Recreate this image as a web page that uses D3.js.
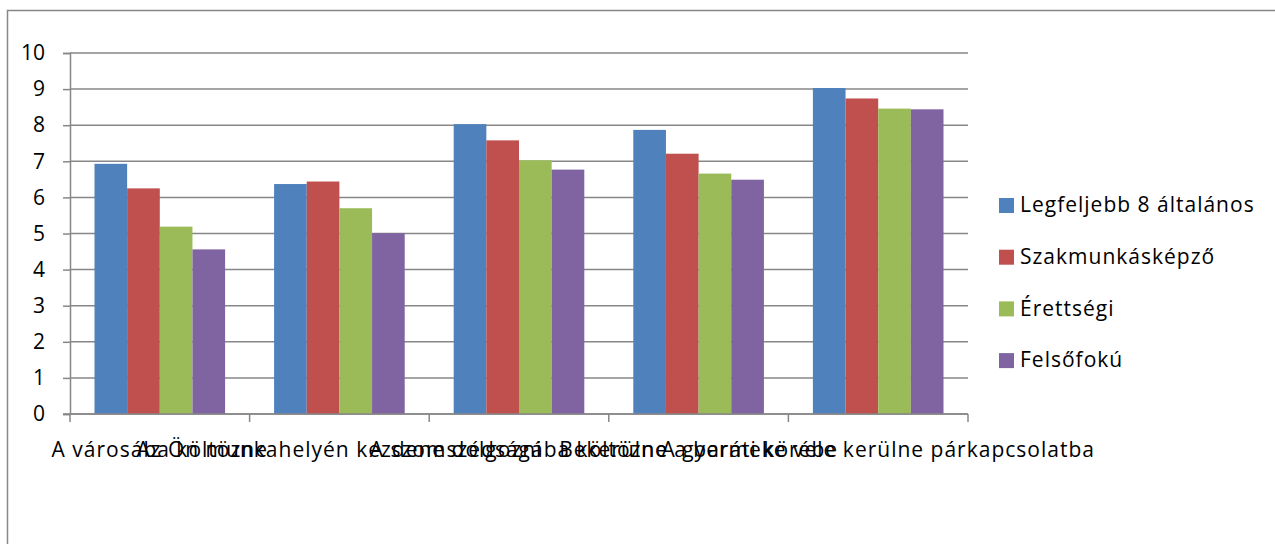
<!DOCTYPE html>
<html>
<head>
<meta charset="utf-8">
<script src="https://cdn.jsdelivr.net/npm/d3@7"></script>
<style>
  body { margin: 0; background: #fff; }
  svg { display: block; font-family: "Open Sans", sans-serif; }
</style>
</head>
<body>
<svg width="1275" height="544"></svg>
<script>
// Data
var categories = [
  'A városába költözne',
  'Az Ön munkahelyén kezdene dolgozni',
  'A szomszédságába költözne',
  'Bekerülne a baráti körébe',
  'A gyermeke vele kerülne párkapcsolatba'
];
var series = ['Legfeljebb 8 általános', 'Szakmunkásképző', 'Érettségi', 'Felsőfokú'];
var values = [
  [6.93, 6.37, 8.03, 7.87, 9.03],   // Legfeljebb 8 általános
  [6.25, 6.44, 7.58, 7.21, 8.74],   // Szakmunkásképző
  [5.19, 5.70, 7.03, 6.66, 8.46],   // Érettségi
  [4.56, 5.01, 6.77, 6.49, 8.44]    // Felsőfokú
];
var yTicks = [0, 1, 2, 3, 4, 5, 6, 7, 8, 9, 10];
var colors = ['#4F81BD', '#C0504D', '#9BBB59', '#8064A2'];

var svg = d3.select('svg');
var gridColor = '#878787';
var fontSize = 21, spacing = '1px';

// outer chart border (runs past the bottom/right edge of the picture)
svg.append('rect')
  .attr('x', 7.5).attr('y', 10.5)
  .attr('width', 1300).attr('height', 600)
  .attr('fill', 'none')
  .attr('stroke', gridColor)
  .attr('stroke-width', 1.5);

var plotLeft = 70, plotRight = 968, plotTop = 53, plotBottom = 414;

var x0 = d3.scaleBand().domain(categories).range([plotLeft, plotRight]).padding(0);
var x1 = d3.scaleBand().domain(series).range([0, x0.bandwidth()])
  .paddingInner(0).paddingOuter(0.75);
var y = d3.scaleLinear().domain([0, 10]).range([plotBottom, plotTop]);

// gridlines
svg.append('g').selectAll('line')
  .data(yTicks)
  .enter().append('line')
  .attr('x1', plotLeft).attr('x2', plotRight)
  .attr('y1', function (d) { return y(d); })
  .attr('y2', function (d) { return y(d); })
  .attr('stroke', gridColor)
  .attr('stroke-width', 1.5);

// y axis
var yAxis = d3.axisLeft(y).tickValues(yTicks).tickSize(7).tickPadding(18)
  .tickFormat(d3.format('d'));
var gy = svg.append('g').attr('transform', 'translate(' + plotLeft + ',0)').call(yAxis);
gy.select('.domain').attr('stroke', gridColor).attr('stroke-width', 1.5);
gy.selectAll('.tick line').attr('stroke', gridColor).attr('stroke-width', 1.5);
gy.selectAll('.tick text').attr('font-size', fontSize).attr('fill', '#000')
  .attr('font-family', '"Open Sans", sans-serif');

// bars
var groups = svg.append('g').selectAll('g')
  .data(categories)
  .enter().append('g')
  .attr('transform', function (d) { return 'translate(' + x0(d) + ',0)'; });

groups.selectAll('rect')
  .data(function (d, i) {
    return series.map(function (s, j) { return { s: s, j: j, v: values[j][i] }; });
  })
  .enter().append('rect')
  .attr('x', function (d) { return x1(d.s); })
  .attr('width', x1.bandwidth())
  .attr('y', function (d) { return y(d.v); })
  .attr('height', function (d) { return y(0) - y(d.v); })
  .attr('fill', function (d) { return colors[d.j]; });

// x axis with category ticks on the boundaries
var gx = svg.append('g').attr('transform', 'translate(0,' + plotBottom + ')');
gx.append('line').attr('x1', plotLeft - 7).attr('x2', plotRight)
  .attr('stroke', gridColor).attr('stroke-width', 1.5);
var bounds = categories.map(function (c) { return x0(c); }).concat([plotRight]);
gx.selectAll('line.tk')
  .data(bounds)
  .enter().append('line')
  .attr('class', 'tk')
  .attr('x1', function (d) { return d; }).attr('x2', function (d) { return d; })
  .attr('y1', 0).attr('y2', 8)
  .attr('stroke', gridColor).attr('stroke-width', 1.5);

gx.selectAll('text')
  .data(categories)
  .enter().append('text')
  .attr('x', function (d) { return x0(d) + x0.bandwidth() / 2; })
  .attr('y', 43)
  .attr('text-anchor', 'middle')
  .attr('font-size', fontSize)
  .attr('letter-spacing', spacing)
  .attr('fill', '#000')
  .text(function (d) { return d; });

// legend
var legend = svg.append('g').selectAll('g')
  .data(series)
  .enter().append('g')
  .attr('transform', function (d, i) { return 'translate(999,' + (205 + i * 51.7) + ')'; });

legend.append('rect')
  .attr('x', 0).attr('y', -7)
  .attr('width', 15).attr('height', 15)
  .attr('fill', function (d, i) { return colors[i]; });

legend.append('text')
  .attr('x', 21).attr('y', 0)
  .attr('dy', '0.35em')
  .attr('font-size', fontSize)
  .attr('letter-spacing', spacing)
  .attr('fill', '#000')
  .text(function (d) { return d; });
</script>
</body>
</html>
